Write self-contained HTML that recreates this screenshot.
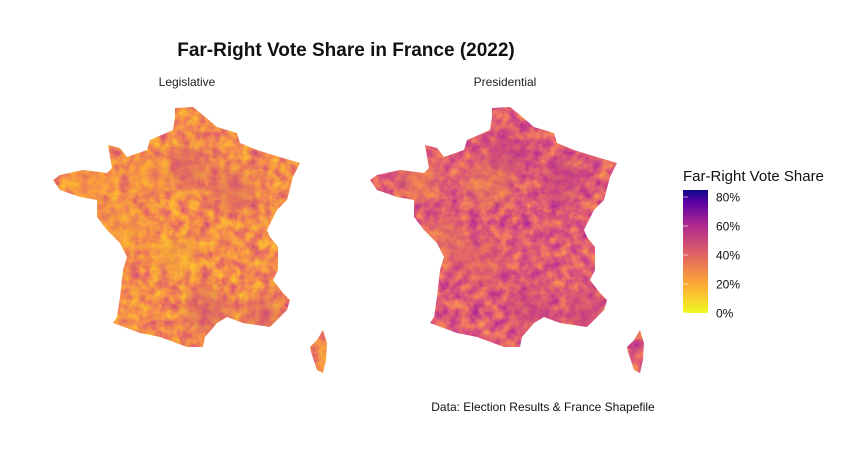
<!DOCTYPE html>
<html><head><meta charset="utf-8"><style>
body{margin:0;background:#fff;font-family:"Liberation Sans",Arial,sans-serif}
svg{display:block}
</style></head><body>
<svg id="chart" width="863" height="471" viewBox="0 0 863 471">
<defs>
<path id="france" d="M175,108 L193,107 L203,115 L217,127 L237,133 L240,143 L257,150 L273,155 L300,163 L293,177 L287,200 L277,210 L267,230 L270,237 L278,247 L278,270 L273,280 L283,293 L290,300 L287,310 L270,327 L243,323 L227,317 L217,323 L205,337 L203,347 L187,347 L160,337 L140,333 L113,323 L117,317 L120,297 L123,270 L127,257 L120,243 L107,230 L97,217 L97,200 L80,197 L60,190 L53,180 L60,175 L83,170 L107,173 L112,168 L108,145 L120,148 L127,157 L147,150 L150,140 L173,130 L175,117 Z M323,330 L327,343 L326,360 L323,373 L317,370 L311,352 L310,347 L317,340 Z"/>
<clipPath id="clipL"><use href="#france"/></clipPath>
<clipPath id="clipR"><use href="#france" transform="translate(317,0)"/></clipPath>
<filter id="noiseL" x="0" y="0" width="100%" height="100%" color-interpolation-filters="sRGB">
<feTurbulence type="fractalNoise" baseFrequency="0.1" numOctaves="3" seed="3"/>
<feColorMatrix type="matrix" values="1 0 0 0 0 1 0 0 0 0 1 0 0 0 0 0 0 0 0 1"/>
<feComponentTransfer>
<feFuncR type="table" tableValues="0.99 0.99 0.96 0.88 0.75"/>
<feFuncG type="table" tableValues="0.85 0.72 0.55 0.38 0.25"/>
<feFuncB type="table" tableValues="0.15 0.20 0.30 0.42 0.52"/>
<feFuncA type="table" tableValues="1 1"/>
</feComponentTransfer>
</filter>
<filter id="noiseR" x="0" y="0" width="100%" height="100%" color-interpolation-filters="sRGB">
<feTurbulence type="fractalNoise" baseFrequency="0.1" numOctaves="3" seed="7"/>
<feColorMatrix type="matrix" values="1 0 0 0 0 1 0 0 0 0 1 0 0 0 0 0 0 0 0 1"/>
<feComponentTransfer>
<feFuncR type="table" tableValues="0.99 0.96 0.88 0.75 0.55"/>
<feFuncG type="table" tableValues="0.72 0.52 0.36 0.22 0.10"/>
<feFuncB type="table" tableValues="0.25 0.35 0.46 0.56 0.63"/>
<feFuncA type="table" tableValues="1 1"/>
</feComponentTransfer>
</filter>
<filter id="blur" color-interpolation-filters="sRGB"><feGaussianBlur stdDeviation="6"/></filter>
<linearGradient id="plasma" x1="0" y1="1" x2="0" y2="0">
<stop offset="0" stop-color="#f0f921"/>
<stop offset="0.24" stop-color="#fca636"/>
<stop offset="0.47" stop-color="#e16462"/>
<stop offset="0.71" stop-color="#b12a90"/>
<stop offset="0.9" stop-color="#5c01a6"/>
<stop offset="1" stop-color="#0d0887"/>
</linearGradient>
</defs>
<text x="346" y="56" text-anchor="middle" font-size="19" font-weight="bold" fill="#111">Far-Right Vote Share in France (2022)</text>
<text x="187" y="86" text-anchor="middle" font-size="12" fill="#222">Legislative</text>
<text x="505" y="86" text-anchor="middle" font-size="12" fill="#222">Presidential</text>
<g clip-path="url(#clipL)">
<rect x="40" y="100" width="300" height="280" filter="url(#noiseL)"/>
<g id="blobsL" filter="url(#blur)" opacity="0.45"></g>
</g>
<g clip-path="url(#clipR)">
<rect x="357" y="100" width="300" height="280" filter="url(#noiseR)"/>
<g id="blobsR" filter="url(#blur)" opacity="0.45"></g>
</g>
<text x="683" y="181" font-size="15" fill="#111">Far-Right Vote Share</text>
<rect x="683" y="190" width="25" height="123" fill="url(#plasma)"/>
<g id="legendTicks"></g>
<text x="543" y="411" text-anchor="middle" font-size="12" fill="#111">Data: Election Results &amp; France Shapefile</text>
</svg>
<script>
// legend
const tickValues = [0, 20, 40, 60, 80];
const tickLabels = ["0%", "20%", "40%", "60%", "80%"];
// regional hotspots: [lon-ish, lat-ish (map units 0-1), vote share %]
const regionsLegislative = [[0.55,0.25,45],[0.72,0.35,45],[0.62,0.85,48],[0.85,0.88,45],[0.28,0.50,18],[0.50,0.62,15],[0.15,0.30,20],[0.38,0.28,22]];
const regionsPresidential = [[0.55,0.20,55],[0.78,0.30,55],[0.65,0.85,52],[0.88,0.86,50],[0.20,0.30,25],[0.45,0.65,38],[0.48,0.32,25],[0.30,0.55,30]];
const ns = "http://www.w3.org/2000/svg";
function yLegend(v){ return 313 - v * 1.45; }
function plasma(v){
  const stops=[[0,[240,249,33]],[20,[252,166,54]],[40,[225,100,98]],[60,[177,42,144]],[80,[92,1,166]]];
  for(let i=0;i<stops.length-1;i++){ if(v<=stops[i+1][0]){const t=(v-stops[i][0])/20;const a=stops[i][1],b=stops[i+1][1];return `rgb(${a.map((c,k)=>Math.round(c+(b[k]-c)*t)).join(',')})`;}}
  return "rgb(92,1,166)";
}
const lt = document.getElementById('legendTicks');
tickValues.forEach((v,i)=>{
  const y=yLegend(v);
  const l=document.createElementNS(ns,'line');
  l.setAttribute('x1',683);l.setAttribute('x2',688);l.setAttribute('y1',y);l.setAttribute('y2',y);
  l.setAttribute('stroke','#fff');l.setAttribute('stroke-opacity','0.6');
  
  
  lt.appendChild(l);
  const t=document.createElementNS(ns,'text');
  t.setAttribute('x',716);t.setAttribute('y',y+4.5);t.setAttribute('font-size','12');t.setAttribute('fill','#111');
  t.textContent=tickLabels[i];
  
  
  lt.appendChild(t);
});
function mapX(u,off){ return off + 53 + u*247; }
function mapY(v){ return 107 + v*240; }
function drawBlobs(id, arr, off){
  const g=document.getElementById(id);
  arr.forEach(r=>{
    const c=document.createElementNS(ns,'circle');
    c.setAttribute('cx',mapX(r[0],off));c.setAttribute('cy',mapY(r[1]));c.setAttribute('r',22);
    c.setAttribute('fill',plasma(r[2]));
    
    
    g.appendChild(c);
  });
}
drawBlobs('blobsL', regionsLegislative, 0);
drawBlobs('blobsR', regionsPresidential, 317);
</script>
</body></html>
